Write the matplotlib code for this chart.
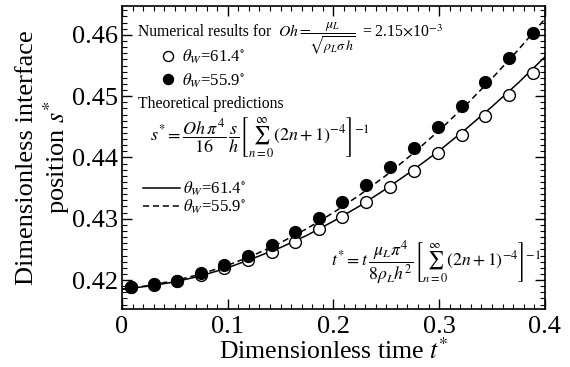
import matplotlib
matplotlib.use('Agg')
import matplotlib.pyplot as plt
from matplotlib.ticker import MultipleLocator

plt.rcParams['font.family'] = 'serif'
plt.rcParams['font.serif'] = ['Liberation Serif', 'DejaVu Serif']
plt.rcParams['mathtext.fontset'] = 'stix'

# numerical results (symbols)
t_num = [0.0085, 0.0303, 0.0520, 0.0747, 0.0965, 0.1190, 0.1418, 0.1636, 0.1862,
         0.2080, 0.2307, 0.2534, 0.2761, 0.2988, 0.3215, 0.3433, 0.3660, 0.3887]
s_num_614 = [0.41891, 0.41923, 0.41984, 0.42082, 0.42191, 0.42327, 0.42462, 0.42625, 0.42833,
             0.43033, 0.43269, 0.43523, 0.43784, 0.44069, 0.44367, 0.44682, 0.45020, 0.45375]
s_num_559 = [0.41891, 0.41935, 0.41989, 0.42109, 0.42245, 0.42392, 0.42571, 0.42789, 0.43007,
             0.43278, 0.43551, 0.43850, 0.44160, 0.44493, 0.44841, 0.45228, 0.45620, 0.46028]

# theoretical predictions (lines)
t_th = [0, 0.025, 0.05, 0.075, 0.1, 0.125, 0.15, 0.175, 0.2,
        0.225, 0.25, 0.275, 0.3, 0.325, 0.35, 0.375, 0.4]
s_th_614 = [0.4185, 0.4190, 0.4197, 0.4207, 0.4220, 0.4236, 0.4253, 0.4273, 0.4296,
            0.4321, 0.4349, 0.4379, 0.4411, 0.4446, 0.4483, 0.4522, 0.4564]
s_th_559 = [0.4185, 0.4191, 0.4199, 0.4210, 0.4224, 0.4241, 0.4261, 0.4284, 0.4310,
            0.4339, 0.4371, 0.4406, 0.4444, 0.4485, 0.4529, 0.4576, 0.4626]

lab_614 = r'$\theta_W$=61.4$^{\circ}$'
lab_559 = r'$\theta_W$=55.9$^{\circ}$'

fig = plt.figure(figsize=(5.7, 3.67), dpi=100)
ax = fig.add_axes([0.214, 0.158, 0.742, 0.826])

ln1, = ax.plot(t_th, s_th_614, '-', color='k', lw=1.1, zorder=2)
ln2, = ax.plot(t_th, s_th_559, '--', color='k', lw=1.1, dashes=(4, 2.5), zorder=2)
p1, = ax.plot(t_num, s_num_614, 'o', mfc='white', mec='k', ms=8.5, mew=1, zorder=3)
p2, = ax.plot(t_num, s_num_559, 'o', mfc='k', mec='k', ms=8.5, zorder=4)

ax.set_xlim(0, 0.4)
ax.set_ylim(0.41527, 0.46473)
ax.xaxis.set_major_locator(MultipleLocator(0.1))
ax.xaxis.set_minor_locator(MultipleLocator(0.01))
ax.yaxis.set_major_locator(MultipleLocator(0.01))
ax.yaxis.set_minor_locator(MultipleLocator(0.001))
ax.set_xticks([0, 0.1, 0.2, 0.3, 0.4])
ax.set_xticklabels(['0', '0.1', '0.2', '0.3', '0.4'])
ax.tick_params(which='both', direction='in', top=True, right=True, labelsize=19)
ax.tick_params(which='major', length=7, width=1)
ax.tick_params(which='minor', length=3.5, width=0.8)
ax.tick_params(axis='x', pad=5)
ax.tick_params(axis='y', pad=3)
for sp in ax.spines.values():
    sp.set_linewidth(1.2)

ax.set_xlabel(r'Dimensionless time $t^{*}$', fontsize=18.5, labelpad=0)
ax.set_ylabel('Dimensionless interface\n' + r'position $s^{*}$', fontsize=19,
              linespacing=1.15)


def fx(px):
    return (px - 122) / 423.0


def fy(py):
    return (309 - py) / 303.0


ax.yaxis.set_label_coords(fx(72), 0.5)

# header of the numerical results, with the Ohnesorge number
hdr = 11.3
ax.text(fx(138), fy(36.5), 'Numerical results for',
        transform=ax.transAxes, fontsize=hdr, ha='left', va='baseline')
ax.text(fx(278), fy(36.5), r'$Oh=$',
        transform=ax.transAxes, fontsize=hdr, ha='left', va='baseline')
ax.text(fx(309), fy(38), r'$\dfrac{\mu_L}{\sqrt{\rho_L\sigma\, h}}$',
        transform=ax.transAxes, fontsize=10, ha='left', va='center')
ax.text(fx(362), fy(36.5), r'= 2.15$\times$10$^{-3}$',
        transform=ax.transAxes, fontsize=hdr, ha='left', va='baseline')

ax.text(fx(138), fy(108), 'Theoretical predictions',
        transform=ax.transAxes, fontsize=hdr, ha='left', va='baseline')
ax.text(fx(150), fy(138),
        r'$s^{*}=\dfrac{Oh\,\pi^4}{16}\,\dfrac{s}{h}\left[\sum_{n=0}^{\infty}\left(2n+1\right)^{-4}\right]^{-1}$',
        transform=ax.transAxes, fontsize=13, ha='left', va='center')
ax.text(fx(541), fy(263),
        r'$t^{*}=t\,\dfrac{\mu_L\pi^4}{8\rho_L h^2}\left[\sum_{n=0}^{\infty}\left(2n+1\right)^{-4}\right]^{-1}$',
        transform=ax.transAxes, fontsize=12.7, ha='right', va='center')

leg1 = ax.legend([p1, p2], [lab_614, lab_559], loc='upper left',
                 bbox_to_anchor=(fx(156), fy(47.5)), frameon=False, fontsize=12,
                 numpoints=1, markerscale=0.85, handlelength=1.4, handletextpad=0.15,
                 labelspacing=0.33, borderpad=0, borderaxespad=0)
ax.add_artist(leg1)
ax.legend([ln1, ln2], [lab_614, lab_559], loc='upper left',
          bbox_to_anchor=(fx(143), fy(179.5)), frameon=False, fontsize=12,
          handlelength=2.2, handletextpad=0.2, labelspacing=0.0,
          borderpad=0, borderaxespad=0)

fig.savefig('out.png', dpi=100)
